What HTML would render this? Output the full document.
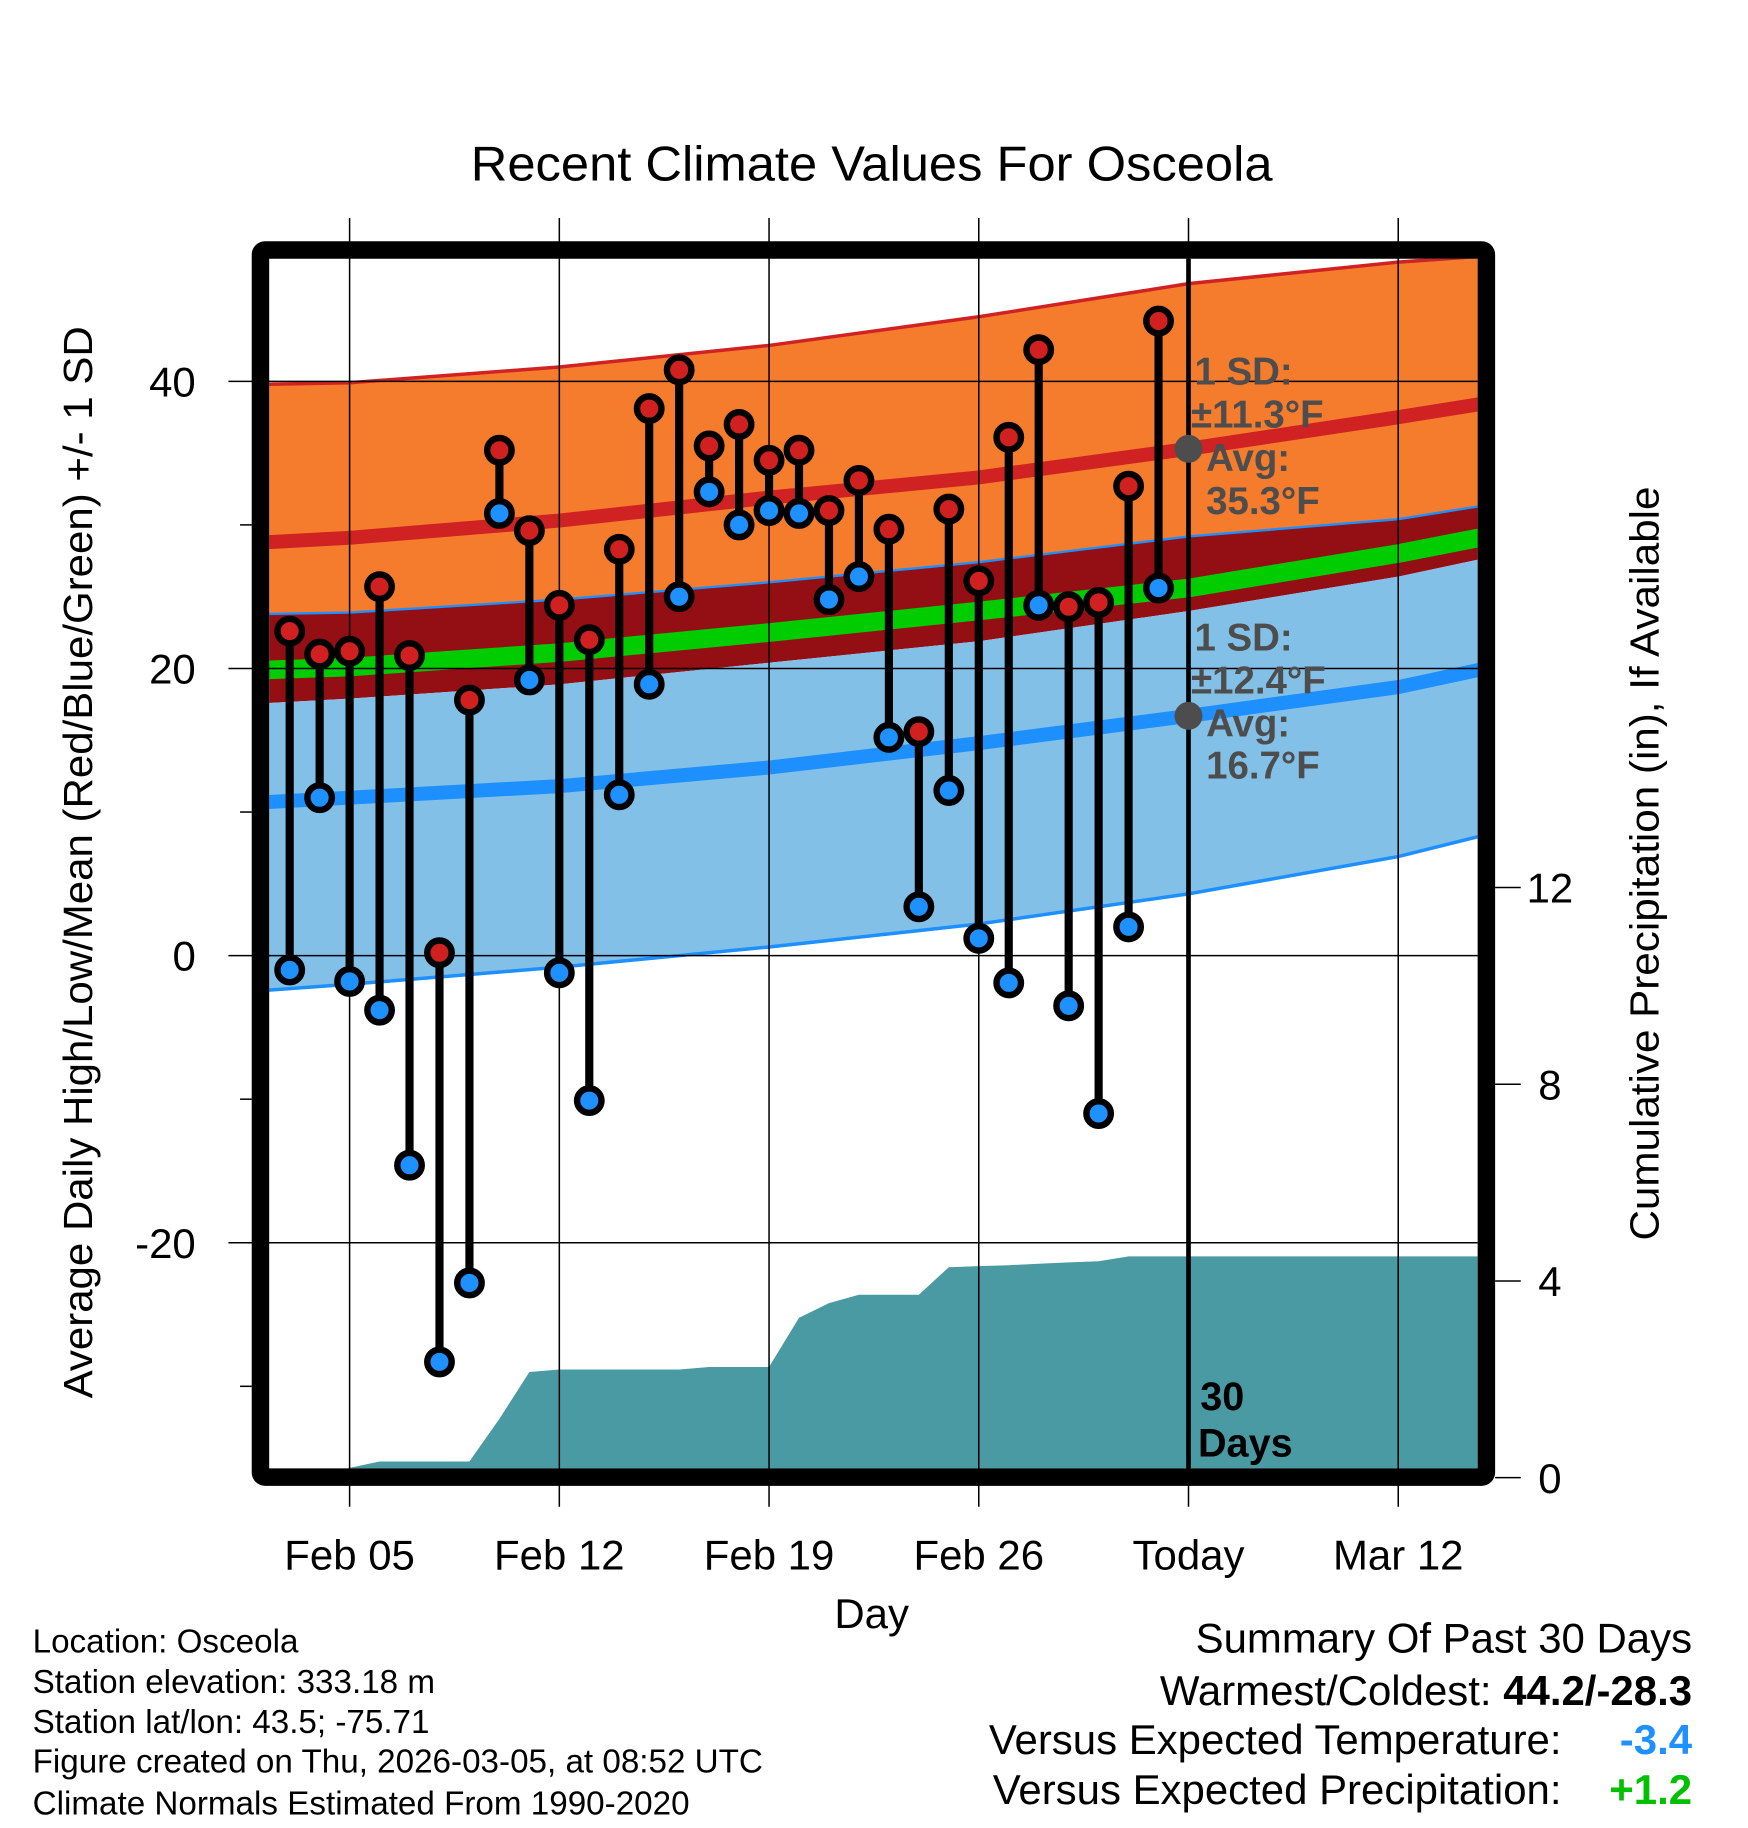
<!DOCTYPE html>
<html><head><meta charset="utf-8"><style>
html,body{margin:0;padding:0;background:#fff;}
svg{display:block;}
text{font-family:"Liberation Sans",sans-serif;}
</style></head><body>
<svg id="chart" width="1748" height="1828" viewBox="0 0 1500 1568.6" xmlns="http://www.w3.org/2000/svg">
<g id="bands"></g>
<g id="precip"></g>
<g id="grid"></g>
<g id="marks"></g>
<g id="frame"></g>
<text x="748" y="155" font-size="42" text-anchor="middle" textLength="688" lengthAdjust="spacingAndGlyphs">Recent Climate Values For Osceola</text>
<text x="748" y="1397" font-size="36" text-anchor="middle">Day</text>
<text transform="translate(79,740) rotate(-90)" font-size="35" text-anchor="middle" textLength="920" lengthAdjust="spacingAndGlyphs">Average Daily High/Low/Mean (Red/Blue/Green) +/- 1 SD</text>
<text transform="translate(1423,741) rotate(-90)" font-size="35" text-anchor="middle" textLength="647" lengthAdjust="spacingAndGlyphs">Cumulative Precipitation (in), If Available</text>
<g fill="#4d4d4d" font-weight="bold" font-size="33">
<text x="1025" y="330">1 SD:</text><text x="1022" y="367">±11.3°F</text><text x="1035" y="404">Avg:</text><text x="1035" y="441">35.3°F</text>
</g>
<g fill="#4d4d4d" font-weight="bold" font-size="33">
<text x="1025" y="558">1 SD:</text><text x="1022" y="595">±12.4°F</text><text x="1035" y="632">Avg:</text><text x="1035" y="668">16.7°F</text>
</g>
<g font-weight="bold" font-size="34">
<text x="1030" y="1210">30</text><text x="1028" y="1250">Days</text>
</g>
<g font-size="28.5">
<text x="28" y="1418">Location: Osceola</text>
<text x="28" y="1453">Station elevation: 333.18 m</text>
<text x="28" y="1487">Station lat/lon: 43.5; -75.71</text>
<text x="28" y="1521">Figure created on Thu, 2026-03-05, at 08:52 UTC</text>
<text x="28" y="1557">Climate Normals Estimated From 1990-2020</text>
</g>
<g font-size="36">
<text x="1452" y="1418" text-anchor="end">Summary Of Past 30 Days</text>
<text x="1452" y="1463" text-anchor="end">Warmest/Coldest: <tspan font-weight="bold">44.2/-28.3</tspan></text>
<text x="1340" y="1505" text-anchor="end">Versus Expected Temperature:</text>
<text x="1452" y="1505" text-anchor="end" fill="#1e90ff" font-weight="bold">-3.4</text>
<text x="1340" y="1548" text-anchor="end">Versus Expected Precipitation:</text>
<text x="1452" y="1548" text-anchor="end" fill="#00c000" font-weight="bold">+1.2</text>
</g>
</svg>
<script>
// ---- data ----
const days = [];for(let i=2;i<=31;i++)days.push(i); // days since Feb 01
const highs = [22.6,21,21.2,25.7,20.9,0.2,17.8,35.2,29.6,24.4,22,28.3,38.1,40.8,35.5,37,34.5,35.2,31,33.1,29.7,15.6,31.1,26.1,36.1,42.2,24.3,24.6,32.7,44.2];
const lows  = [-1,11,-1.8,-3.8,-14.6,-28.3,-22.8,30.8,19.2,-1.2,-10.1,11.2,18.9,25,32.3,30,31,30.8,24.8,26.4,15.2,3.4,11.5,1.2,-1.9,24.4,-3.5,-11,2,25.6];
const precip = [0,0,0.2,0.33,0.33,0.33,0.33,1.2,2.15,2.2,2.2,2.2,2.2,2.2,2.25,2.25,2.25,3.25,3.55,3.72,3.72,3.72,4.28,4.3,4.32,4.35,4.38,4.4,4.5,4.5];
const normDays = [1.3,4,11,18,25,32,39,41.7];
const highPlus = [39.8,39.9,41.0,42.5,44.5,46.8,48.3,48.7];
const highMean = [28.8,29.1,30.3,31.9,33.3,35.3,37.5,38.4];
const highMinus= [23.8,23.9,24.8,26.0,27.4,29.2,30.4,31.3];
const meanMean = [19.9,20.1,21.1,22.5,24.0,25.6,28.0,29.1];
const lowPlus  = [17.6,17.9,18.9,20.4,21.9,24.0,26.4,27.6];
const lowMean  = [10.7,11.0,11.8,13.1,14.8,16.7,18.7,19.9];
const lowMinus = [-2.4,-2.0,-0.8,0.6,2.2,4.3,6.9,8.3];
const xTickDays = [4,11,18,25,32,39];
const xTickLabels = ["Feb 05","Feb 12","Feb 19","Feb 26","Today","Mar 12"];
const yTicks = [40,20,0,-20];
const yMinor = [30,10,-10,-30];
const pTicks = [0,4,8,12];
// ---- scales ----
const L=231,R=1268,T=222,B=1260;
const X=d=>300+(d-4)*25.71;
const Y=v=>820-12.32*v;
const P=p=>1268-42.2*p;
const NS='http://www.w3.org/2000/svg';
function mk(tag,parent,attrs){const e=document.createElementNS(NS,tag);for(const k in attrs)e.setAttribute(k,attrs[k]);parent.appendChild(e);return e;}
function line(arr){return normDays.map((d,i)=>(i?'L':'M')+X(d).toFixed(1)+','+Y(arr[i]).toFixed(1)).join(' ');}
function band(a,b){let s=line(a);for(let i=normDays.length-1;i>=0;i--)s+=' L'+X(normDays[i]).toFixed(1)+','+Y(b[i]).toFixed(1);return s+'Z';}
const defs=mk('defs',document.getElementById('chart'),{});
const cp=mk('clipPath',defs,{id:'pc'});mk('rect',cp,{x:L,y:T,width:R-L,height:B-T});
const bands=document.getElementById('bands');bands.setAttribute('clip-path','url(#pc)');
let e;
e=mk('path',bands,{d:band(highPlus,highMinus),fill:'#f57b2d'});

e=mk('path',bands,{d:band(highMinus,lowPlus),fill:'#930f14'});

e=mk('path',bands,{d:band(lowPlus,lowMinus),fill:'#82c0e8'});

e=mk('path',bands,{d:line(meanMean),fill:'none',stroke:'#00cc00','stroke-width':16});

e=mk('path',bands,{d:line(highMean),fill:'none',stroke:'#d02222','stroke-width':12});

e=mk('path',bands,{d:line(lowMean),fill:'none',stroke:'#1e8fff','stroke-width':12});

e=mk('path',bands,{d:line(highPlus),fill:'none',stroke:'#d02222','stroke-width':3});

e=mk('path',bands,{d:line(highMinus),fill:'none',stroke:'#1e8fff','stroke-width':2});

e=mk('path',bands,{d:line(lowMinus),fill:'none',stroke:'#1e8fff','stroke-width':3});

// precip
const pg=document.getElementById('precip');pg.setAttribute('clip-path','url(#pc)');
let pd='M'+X(days[0]-1)+','+(B+10);
days.forEach((d,i)=>{pd+=' L'+X(d).toFixed(1)+','+P(precip[i]).toFixed(1);});
pd+=' L'+R+','+P(precip[precip.length-1]).toFixed(1)+' L'+R+','+(B+10)+'Z';
e=mk('path',pg,{d:pd,fill:'#4a9aa3'});

// grid
const g=document.getElementById('grid');
xTickDays.forEach((d,i)=>{
 e=mk('line',g,{x1:X(d),x2:X(d),y1:187,y2:1293,stroke:'#000','stroke-width':1.3});
 
 e=mk('text',g,{x:X(d),y:1347,'font-size':36,'text-anchor':'middle'});e.textContent=xTickLabels[i];
 
});
yTicks.forEach(v=>{
 e=mk('line',g,{x1:196,x2:R,y1:Y(v),y2:Y(v),stroke:'#000','stroke-width':1.3});
 
 e=mk('text',g,{x:168,y:Y(v)+13,'font-size':36,'text-anchor':'end'});e.textContent=v;
 
});
yMinor.forEach(v=>{
 e=mk('line',g,{x1:206,x2:216,y1:Y(v),y2:Y(v),stroke:'#000','stroke-width':1.3});
 
});
pTicks.forEach(p=>{
 e=mk('line',g,{x1:1283,x2:1305,y1:P(p),y2:P(p),stroke:'#000','stroke-width':1.3});
 
 e=mk('text',g,{x:1330,y:P(p)+13,'font-size':36,'text-anchor':'middle'});e.textContent=p;
 
});
e=mk('line',g,{x1:X(32),x2:X(32),y1:T,y2:B,stroke:'#000','stroke-width':4});

// marks
const m=document.getElementById('marks');
days.forEach((d,i)=>{
 const x=X(d);
 e=mk('line',m,{x1:x,x2:x,y1:Y(highs[i]),y2:Y(lows[i]),stroke:'#000','stroke-width':7});
 
 e=mk('circle',m,{cx:x,cy:Y(lows[i]),r:10.5,fill:'#1e90ff',stroke:'#000','stroke-width':5.5});
 
 e=mk('circle',m,{cx:x,cy:Y(highs[i]),r:10.5,fill:'#d02020',stroke:'#000','stroke-width':5.5});
 
});
e=mk('circle',m,{cx:X(32),cy:Y(highMean[5]),r:12,fill:'#4d4d4d'});

e=mk('circle',m,{cx:X(32),cy:Y(lowMean[5]),r:12,fill:'#4d4d4d'});

// frame
const f=document.getElementById('frame');
e=mk('rect',f,{x:223.5,y:214.5,width:1052,height:1053,fill:'none',stroke:'#000','stroke-width':15,rx:4});

</script>
</body></html>
